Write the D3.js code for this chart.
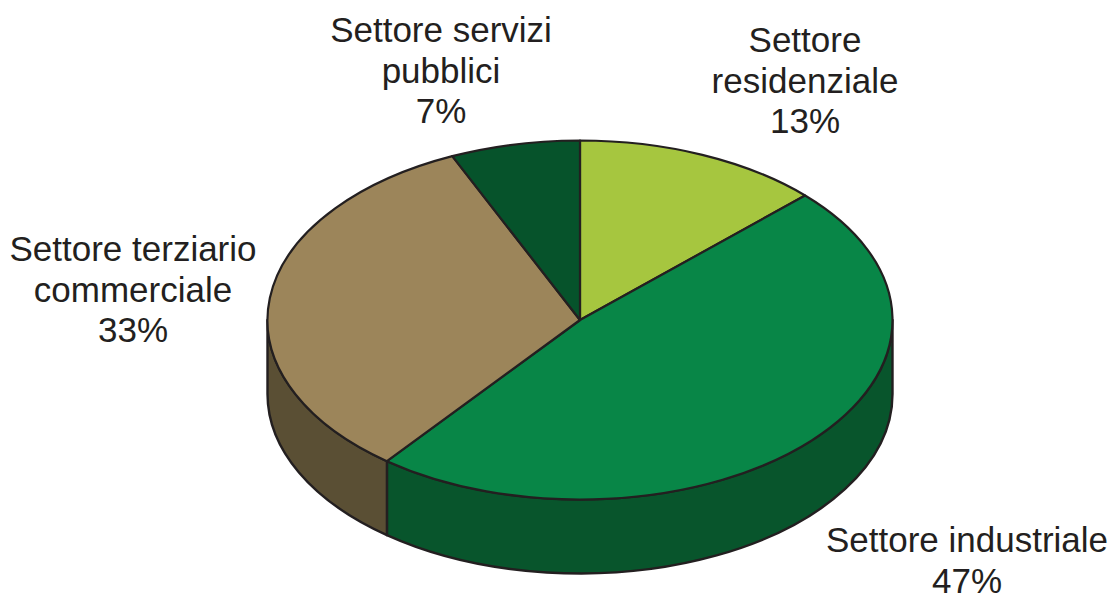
<!DOCTYPE html>
<html><head><meta charset="utf-8">
<script src="https://cdn.jsdelivr.net/npm/d3@7/dist/d3.min.js"></script>
<style>html,body{margin:0;padding:0;background:#fff}svg{display:block}</style>
</head><body><svg id="c" width="1110" height="594"></svg>
<script>
const categories = ["Settore residenziale","Settore industriale","Settore terziario commerciale","Settore servizi pubblici"];
const labelLines = [["Settore","residenziale","13%"],["Settore industriale","47%"],["Settore terziario","commerciale","33%"],["Settore servizi","pubblici","7%"]];
const percents = [13,47,33,7];
const drawnShares = [12.8,47.8,32.7,6.7];
const topColors = ["#a6c63f","#088647","#9c855a","#06532b"];
const sideColors = ["#7d9433","#08552c","#5a4f34","#063f23"];
const labelAnchors = [[805,40],[967,540],[133,249],[441,30]];

const cx=580, cy=320, rx=312.5, ry=179.5, depth=74;
const svg=d3.select("#c");
const pie=d3.pie().sort(null).value(d=>d);
const arcs=pie(drawnShares);
const px=a=>cx+rx*Math.sin(a), py=a=>cy-ry*Math.cos(a);
const ink="#231f20";

function sidePath(a0,a1){
  const large=(a1-a0)>Math.PI?1:0;
  return `M${px(a0)},${py(a0)}A${rx},${ry} 0 ${large} 1 ${px(a1)},${py(a1)}L${px(a1)},${py(a1)+depth}A${rx},${ry} 0 ${large} 0 ${px(a0)},${py(a0)+depth}Z`;
}
arcs.forEach((d,i)=>{
  const a0=Math.max(d.startAngle,Math.PI/2), a1=Math.min(d.endAngle,Math.PI*1.5);
  if(a1>a0){
    svg.append("path").attr("d",sidePath(a0,a1)).attr("fill",sideColors[i])
      .attr("stroke",ink).attr("stroke-width",2.4).attr("stroke-linejoin","round");
  }
});
arcs.forEach((d,i)=>{
  const large=(d.endAngle-d.startAngle)>Math.PI?1:0;
  svg.append("path")
    .attr("d",`M${cx},${cy}L${px(d.startAngle)},${py(d.startAngle)}A${rx},${ry} 0 ${large} 1 ${px(d.endAngle)},${py(d.endAngle)}Z`)
    .attr("fill",topColors[i]).attr("stroke",ink).attr("stroke-width",2.2).attr("stroke-linejoin","round");
});
labelLines.forEach((lines,i)=>{
  const t=svg.append("text").attr("text-anchor","middle")
    .attr("font-family","Liberation Sans, Arial, sans-serif").attr("font-size",35).attr("fill",ink);
  lines.forEach((s,j)=>t.append("tspan").attr("x",labelAnchors[i][0]).attr("y",labelAnchors[i][1]+12+j*40.5).text(s));
});
</script></body></html>
